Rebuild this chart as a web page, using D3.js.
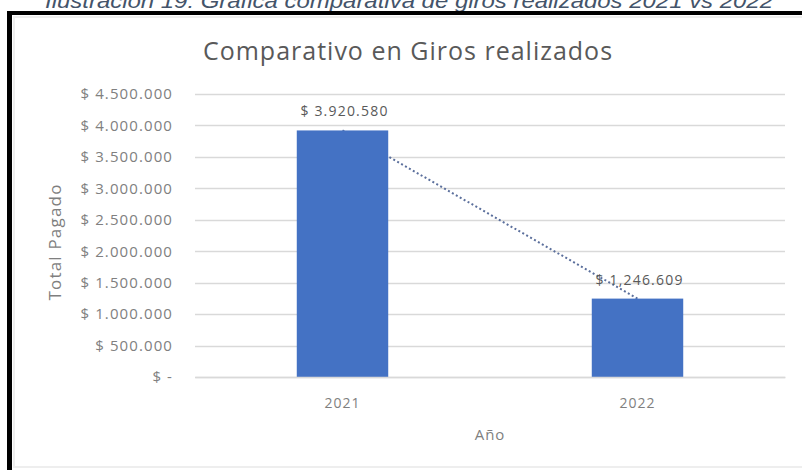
<!DOCTYPE html>
<html><head><meta charset="utf-8">
<script src="https://cdn.jsdelivr.net/npm/d3@7"></script>
<style>body{margin:0;background:#fff}svg{display:block}</style>
</head><body>
<script>
const categories = ["2021", "2022"];
const values = [3920580, 1246609];
const valueLabels = ["$ 3.920.580", "$ 1,246.609"];
const yTicks = [0, 500000, 1000000, 1500000, 2000000, 2500000, 3000000, 3500000, 4000000, 4500000];
const yTickLabels = ["$ -", "$ 500.000", "$ 1.000.000", "$ 1.500.000", "$ 2.000.000", "$ 2.500.000", "$ 3.000.000", "$ 3.500.000", "$ 4.000.000", "$ 4.500.000"];
const caption = "Ilustración 19: Gráfica comparativa de giros realizados 2021 vs 2022";
const chartTitle = "Comparativo en Giros realizados";
const yTitle = "Total Pagado";
const xTitle = "Año";

const W = 802, H = 470;
const svg = d3.select("body").append("svg").attr("width", W).attr("height", H);
const font = "'Open Sans', sans-serif";

// caption
svg.append("text").attr("x", 409).attr("y", 8).attr("text-anchor", "middle")
  .attr("font-family", "'Liberation Sans', Arial, sans-serif").attr("font-style", "italic")
  .attr("font-size", 20).attr("fill", "#44546A").text(caption)
  .attr("textLength", 728).attr("lengthAdjust", "spacingAndGlyphs");

// frame
svg.append("rect").attr("x", 14).attr("y", 17).attr("width", 790).attr("height", 450)
  .attr("fill", "#fff").attr("stroke", "#eeeeee").attr("stroke-width", 2);
svg.append("line").attr("x1", 7).attr("x2", W).attr("y1", 13).attr("y2", 13).attr("stroke", "#000").attr("stroke-width", 4);
svg.append("line").attr("x1", 9.5).attr("x2", 9.5).attr("y1", 11).attr("y2", H).attr("stroke", "#000").attr("stroke-width", 5);

const x0 = 195, x1 = 785;
const x = d3.scaleBand().domain(categories).range([x0, x1]).paddingInner(0.69).paddingOuter(0.345);
const y = d3.scaleLinear().domain([0, 4500000]).range([377, 94]);

// title
svg.append("text").attr("x", 408).attr("y", 60).attr("text-anchor", "middle")
  .attr("font-family", font).attr("font-size", 25).attr("letter-spacing", 1).attr("fill", "#595959").text(chartTitle);

// gridlines
svg.append("g").selectAll("line").data(yTicks).join("line")
  .attr("x1", x0).attr("x2", x1).attr("y1", d => Math.round(y(d)) + 0.5).attr("y2", d => Math.round(y(d)) + 0.5)
  .attr("stroke", "#D9D9D9").attr("stroke-width", 1.4);

// y axis labels
const yAxis = d3.axisLeft(y).tickValues(yTicks).tickSize(0).tickPadding(0)
  .tickFormat((d, i) => yTickLabels[i]);
const gy = svg.append("g").attr("transform", "translate(173,0)").call(yAxis);
gy.select(".domain").remove();
gy.selectAll("text").attr("font-family", font).attr("font-size", 15).attr("letter-spacing", 1.1).attr("fill", "#808080");

// trendline (linear through points)
const pts = categories.map((c, i) => [x(c) + x.bandwidth() / 2, y(values[i])]);
svg.append("path").attr("d", d3.line()(pts)).attr("fill", "none")
  .attr("stroke", "#5B6F9C").attr("stroke-width", 2).attr("stroke-dasharray", "2,2.5");

// bars
svg.append("g").selectAll("rect").data(values).join("rect")
  .attr("x", (d, i) => x(categories[i])).attr("width", x.bandwidth())
  .attr("y", d => y(d)).attr("height", d => y(0) - y(d)).attr("fill", "#4472C4");

// data labels
svg.append("g").selectAll("text").data(values).join("text")
  .attr("x", (d, i) => x(categories[i]) + x.bandwidth() / 2 + 2).attr("y", d => y(d) - 14)
  .attr("text-anchor", "middle").attr("font-family", font).attr("font-size", 14).attr("letter-spacing", 1.2)
  .attr("fill", "#595959").text((d, i) => valueLabels[i]);

// x axis
const xAxis = d3.axisBottom(x).tickSize(0).tickPadding(0);
const gx = svg.append("g").attr("transform", "translate(0,377)").call(xAxis);
gx.select(".domain").attr("stroke", "#D9D9D9").attr("stroke-width", 1.4);
gx.selectAll("text").attr("dy", null).attr("y", 31).attr("font-family", font).attr("font-size", 14)
  .attr("letter-spacing", 1).attr("fill", "#7F7F7F");

// axis titles
svg.append("text").attr("x", 490).attr("y", 440).attr("text-anchor", "middle")
  .attr("font-family", font).attr("font-size", 15).attr("letter-spacing", 1).attr("fill", "#7F7F7F").text(xTitle);
svg.append("text").attr("transform", "translate(61,242) rotate(-90)").attr("text-anchor", "middle")
  .attr("font-family", font).attr("font-size", 17).attr("letter-spacing", 1.2).attr("fill", "#7F7F7F").text(yTitle);
</script>
</body></html>
